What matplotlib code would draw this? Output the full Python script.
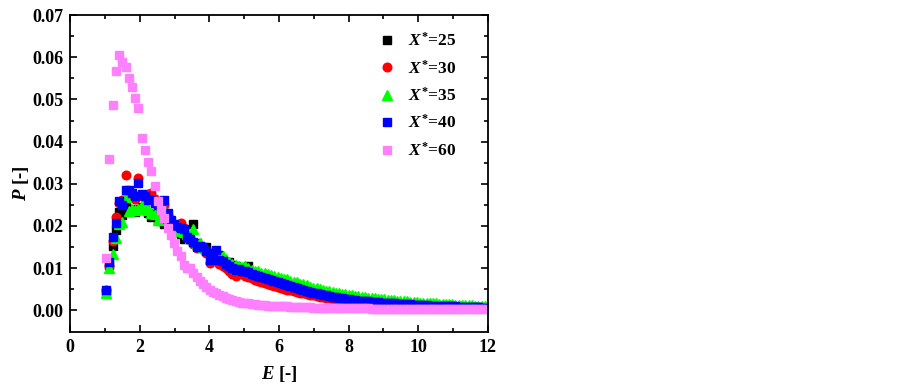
import matplotlib
matplotlib.use("Agg")
import matplotlib.pyplot as plt

plt.rcParams['font.family'] = 'Liberation Serif'
plt.rcParams['font.weight'] = 'bold'
plt.rcParams['mathtext.fontset'] = 'custom'
plt.rcParams['mathtext.it'] = 'Liberation Serif:italic:bold'
plt.rcParams['mathtext.rm'] = 'Liberation Serif:bold'
plt.rcParams['mathtext.bf'] = 'Liberation Serif:bold'

# bin centres of E
E = [1.03, 1.12, 1.22, 1.31, 1.40, 1.50, 1.59, 1.68, 1.77, 1.87,
     1.96, 2.05, 2.15, 2.24, 2.33, 2.43, 2.52, 2.61, 2.70, 2.80,
     2.89, 2.98, 3.08, 3.17, 3.26, 3.36, 3.45, 3.54, 3.63, 3.73,
     3.82, 3.91, 4.01, 4.10, 4.19, 4.29, 4.38, 4.47, 4.56, 4.66,
     4.75, 4.84, 4.94, 5.03, 5.12, 5.22, 5.31, 5.40, 5.49, 5.59,
     5.68, 5.77, 5.87, 5.96, 6.05, 6.15, 6.24, 6.33, 6.42, 6.52,
     6.61, 6.70, 6.80, 6.89, 6.98, 7.08, 7.17, 7.26, 7.35, 7.45,
     7.54, 7.63, 7.73, 7.82, 7.91, 8.01, 8.10, 8.19, 8.28, 8.38,
     8.47, 8.56, 8.66, 8.75, 8.84, 8.94, 9.03, 9.12, 9.21, 9.31,
     9.40, 9.49, 9.59, 9.68, 9.77, 9.87, 9.96, 10.05, 10.14, 10.24,
     10.33, 10.42, 10.52, 10.61, 10.70, 10.80, 10.89, 10.98, 11.07, 11.17,
     11.26, 11.35, 11.45, 11.54, 11.63, 11.73, 11.82, 11.91]

P25 = [0.0044, 0.0108, 0.0152, 0.0190, 0.0232, 0.0225, 0.0245, 0.0240, 0.0236, 0.0232,
       0.0240, 0.0245, 0.0238, 0.0230, 0.0222, 0.0228, 0.0215, 0.0212, 0.0205, 0.0208,
       0.0196, 0.0192, 0.0186, 0.0180, 0.0170, 0.0175, 0.0168, 0.0205, 0.0160, 0.0152,
       0.0148, 0.0150, 0.0136, 0.0128, 0.0125, 0.0130, 0.0120, 0.0112, 0.0115, 0.0108,
       0.0105, 0.0100, 0.0096, 0.0100, 0.0105, 0.0090, 0.0088, 0.0084, 0.0082, 0.0078,
       0.0075, 0.0072, 0.0068, 0.0065, 0.0063, 0.0060, 0.0058, 0.0055, 0.0053, 0.0051,
       0.0049, 0.0047, 0.0045, 0.0043, 0.0041, 0.0039, 0.0038, 0.0036, 0.0034, 0.0033,
       0.0031, 0.0030, 0.0029, 0.0027, 0.0026, 0.0025, 0.0024, 0.0023, 0.0022, 0.0022,
       0.0021, 0.0020, 0.0019, 0.0019, 0.0018, 0.0017, 0.0017, 0.0016, 0.0016, 0.0015,
       0.0015, 0.0014, 0.0014, 0.0013, 0.0013, 0.0013, 0.0012, 0.0012, 0.0011, 0.0011,
       0.0011, 0.0010, 0.0010, 0.0010, 0.0009, 0.0009, 0.0009, 0.0009, 0.0008, 0.0008,
       0.0008, 0.0008, 0.0008, 0.0007, 0.0007, 0.0007, 0.0007, 0.0007]

P30 = [0.0049, 0.0105, 0.0165, 0.0222, 0.0255, 0.0262, 0.0320, 0.0275, 0.0270, 0.0265,
       0.0314, 0.0270, 0.0265, 0.0275, 0.0278, 0.0265, 0.0245, 0.0238, 0.0250, 0.0225,
       0.0208, 0.0200, 0.0200, 0.0207, 0.0195, 0.0178, 0.0168, 0.0158, 0.0148, 0.0150,
       0.0146, 0.0135, 0.0112, 0.0125, 0.0130, 0.0110, 0.0105, 0.0100, 0.0092, 0.0085,
       0.0080, 0.0090, 0.0085, 0.0082, 0.0078, 0.0076, 0.0072, 0.0070, 0.0066, 0.0064,
       0.0062, 0.0060, 0.0058, 0.0055, 0.0053, 0.0051, 0.0049, 0.0047, 0.0045, 0.0043,
       0.0041, 0.0040, 0.0038, 0.0036, 0.0035, 0.0034, 0.0032, 0.0031, 0.0029, 0.0028,
       0.0027, 0.0026, 0.0025, 0.0024, 0.0023, 0.0022, 0.0021, 0.0020, 0.0019, 0.0019,
       0.0018, 0.0017, 0.0017, 0.0016, 0.0016, 0.0015, 0.0015, 0.0014, 0.0014, 0.0013,
       0.0013, 0.0012, 0.0012, 0.0012, 0.0011, 0.0011, 0.0011, 0.0010, 0.0010, 0.0010,
       0.0009, 0.0009, 0.0009, 0.0008, 0.0008, 0.0008, 0.0007, 0.0007, 0.0007, 0.0007,
       0.0006, 0.0006, 0.0006, 0.0006, 0.0005, 0.0005, 0.0005, 0.0005]

P35 = [0.0040, 0.0099, 0.0134, 0.0172, 0.0205, 0.0210, 0.0268, 0.0235, 0.0240, 0.0237,
       0.0240, 0.0249, 0.0245, 0.0237, 0.0230, 0.0228, 0.0213, 0.0235, 0.0239, 0.0215,
       0.0200, 0.0190, 0.0198, 0.0188, 0.0186, 0.0180, 0.0172, 0.0192, 0.0156, 0.0160,
       0.0150, 0.0145, 0.0125, 0.0132, 0.0135, 0.0132, 0.0128, 0.0122, 0.0115, 0.0110,
       0.0108, 0.0105, 0.0102, 0.0104, 0.0100, 0.0096, 0.0094, 0.0092, 0.0089, 0.0088,
       0.0086, 0.0084, 0.0082, 0.0079, 0.0077, 0.0075, 0.0073, 0.0070, 0.0068, 0.0066,
       0.0063, 0.0061, 0.0059, 0.0056, 0.0053, 0.0052, 0.0050, 0.0048, 0.0046, 0.0045,
       0.0043, 0.0042, 0.0040, 0.0039, 0.0038, 0.0036, 0.0035, 0.0034, 0.0033, 0.0032,
       0.0031, 0.0030, 0.0029, 0.0028, 0.0027, 0.0026, 0.0026, 0.0025, 0.0024, 0.0024,
       0.0023, 0.0022, 0.0022, 0.0021, 0.0020, 0.0020, 0.0019, 0.0018, 0.0018, 0.0017,
       0.0017, 0.0016, 0.0016, 0.0015, 0.0015, 0.0014, 0.0014, 0.0014, 0.0013, 0.0013,
       0.0013, 0.0012, 0.0012, 0.0012, 0.0011, 0.0011, 0.0011, 0.0010]

P40 = [0.0047, 0.0115, 0.0173, 0.0207, 0.0260, 0.0250, 0.0284, 0.0284, 0.0278, 0.0272,
       0.0302, 0.0276, 0.0270, 0.0262, 0.0262, 0.0255, 0.0250, 0.0240, 0.0262, 0.0230,
       0.0215, 0.0205, 0.0198, 0.0196, 0.0192, 0.0174, 0.0170, 0.0162, 0.0150, 0.0152,
       0.0150, 0.0140, 0.0118, 0.0128, 0.0144, 0.0118, 0.0116, 0.0110, 0.0104, 0.0100,
       0.0096, 0.0098, 0.0094, 0.0092, 0.0090, 0.0086, 0.0084, 0.0082, 0.0078, 0.0076,
       0.0073, 0.0071, 0.0069, 0.0066, 0.0064, 0.0062, 0.0059, 0.0057, 0.0055, 0.0052,
       0.0050, 0.0048, 0.0046, 0.0044, 0.0042, 0.0040, 0.0039, 0.0037, 0.0035, 0.0034,
       0.0032, 0.0031, 0.0030, 0.0029, 0.0027, 0.0026, 0.0025, 0.0024, 0.0023, 0.0022,
       0.0022, 0.0021, 0.0020, 0.0020, 0.0019, 0.0018, 0.0018, 0.0017, 0.0016, 0.0016,
       0.0015, 0.0015, 0.0014, 0.0014, 0.0014, 0.0013, 0.0013, 0.0013, 0.0012, 0.0012,
       0.0011, 0.0011, 0.0011, 0.0010, 0.0010, 0.0010, 0.0009, 0.0009, 0.0009, 0.0008,
       0.0008, 0.0008, 0.0008, 0.0007, 0.0007, 0.0007, 0.0006, 0.0006]

P60 = [0.0125, 0.0358, 0.0487, 0.0568, 0.0605, 0.0590, 0.0578, 0.0550, 0.0530, 0.0503,
       0.0480, 0.0408, 0.0380, 0.0352, 0.0331, 0.0295, 0.0258, 0.0238, 0.0218, 0.0195,
       0.0178, 0.0160, 0.0140, 0.0128, 0.0108, 0.0100, 0.0099, 0.0088, 0.0079, 0.0070,
       0.0063, 0.0056, 0.0049, 0.0044, 0.0040, 0.0036, 0.0033, 0.0030, 0.0027, 0.0024,
       0.0022, 0.0020, 0.0018, 0.0017, 0.0016, 0.0015, 0.0014, 0.0013, 0.0012, 0.0012,
       0.0011, 0.0011, 0.0010, 0.0010, 0.0009, 0.0009, 0.0009, 0.0008, 0.0008, 0.0008,
       0.0007, 0.0007, 0.0007, 0.0007, 0.0006, 0.0006, 0.0006, 0.0006, 0.0006, 0.0005,
       0.0005, 0.0005, 0.0005, 0.0005, 0.0005, 0.0005, 0.0005, 0.0005, 0.0005, 0.0005,
       0.0005, 0.0005, 0.0004, 0.0004, 0.0004, 0.0004, 0.0004, 0.0004, 0.0004, 0.0004,
       0.0004, 0.0004, 0.0004, 0.0004, 0.0004, 0.0003, 0.0003, 0.0003, 0.0003, 0.0003,
       0.0003, 0.0003, 0.0003, 0.0003, 0.0003, 0.0003, 0.0003, 0.0003, 0.0003, 0.0003,
       0.0003, 0.0003, 0.0002, 0.0002, 0.0002, 0.0002, 0.0002, 0.0002]

labels = ["25", "30", "35", "40", "60"]

fig = plt.figure(figsize=(9, 3.88), dpi=100)
ax = fig.add_axes([0.078, 0.144, 0.464, 0.817])

ax.plot(E, P25, ls="none", marker="s", ms=5.8, color="black", label=r"$X^{*}$=" + labels[0])
ax.plot(E, P30, ls="none", marker="o", ms=6.2, color="#FF0000", label=r"$X^{*}$=" + labels[1])
ax.plot(E, P35, ls="none", marker="^", ms=6.8, color="#00FF00", label=r"$X^{*}$=" + labels[2])
ax.plot(E, P40, ls="none", marker="s", ms=5.8, color="#0000FF", label=r"$X^{*}$=" + labels[3])
ax.plot(E, P60, ls="none", marker="s", ms=5.8, color="#FF80FF", label=r"$X^{*}$=" + labels[4])

ax.set_xlim(0, 12)
ax.set_ylim(-0.0052, 0.07)
ax.set_xticks([0, 2, 4, 6, 8, 10, 12])
ax.set_xticks([1, 3, 5, 7, 9, 11], minor=True)
ax.set_yticks([0.00, 0.01, 0.02, 0.03, 0.04, 0.05, 0.06, 0.07])
ax.set_yticks([0.005, 0.015, 0.025, 0.035, 0.045, 0.055, 0.065], minor=True)
ax.set_yticklabels(["0.00", "0.01", "0.02", "0.03", "0.04", "0.05", "0.06", "0.07"])

ax.tick_params(which="both", direction="in", top=True, right=True, width=1.2, labelsize=13)
ax.tick_params(which="major", length=5, pad=5)
ax.tick_params(which="minor", length=3)
for s in ax.spines.values():
    s.set_linewidth(1.3)

ax.set_xlabel(r"$E$ [-]", fontsize=13.5, fontweight="bold", labelpad=6)
ax.set_ylabel(r"$P$ [-]", fontsize=13.5, fontweight="bold")
ax.yaxis.set_label_coords(-0.095, 0.47)

ax.legend(loc="upper left", bbox_to_anchor=(0.717, 0.969), frameon=False,
          fontsize=12.5, handletextpad=0.6, labelspacing=0.55, handlelength=1.2,
          borderaxespad=0)

fig.savefig("out.png", dpi=100)
